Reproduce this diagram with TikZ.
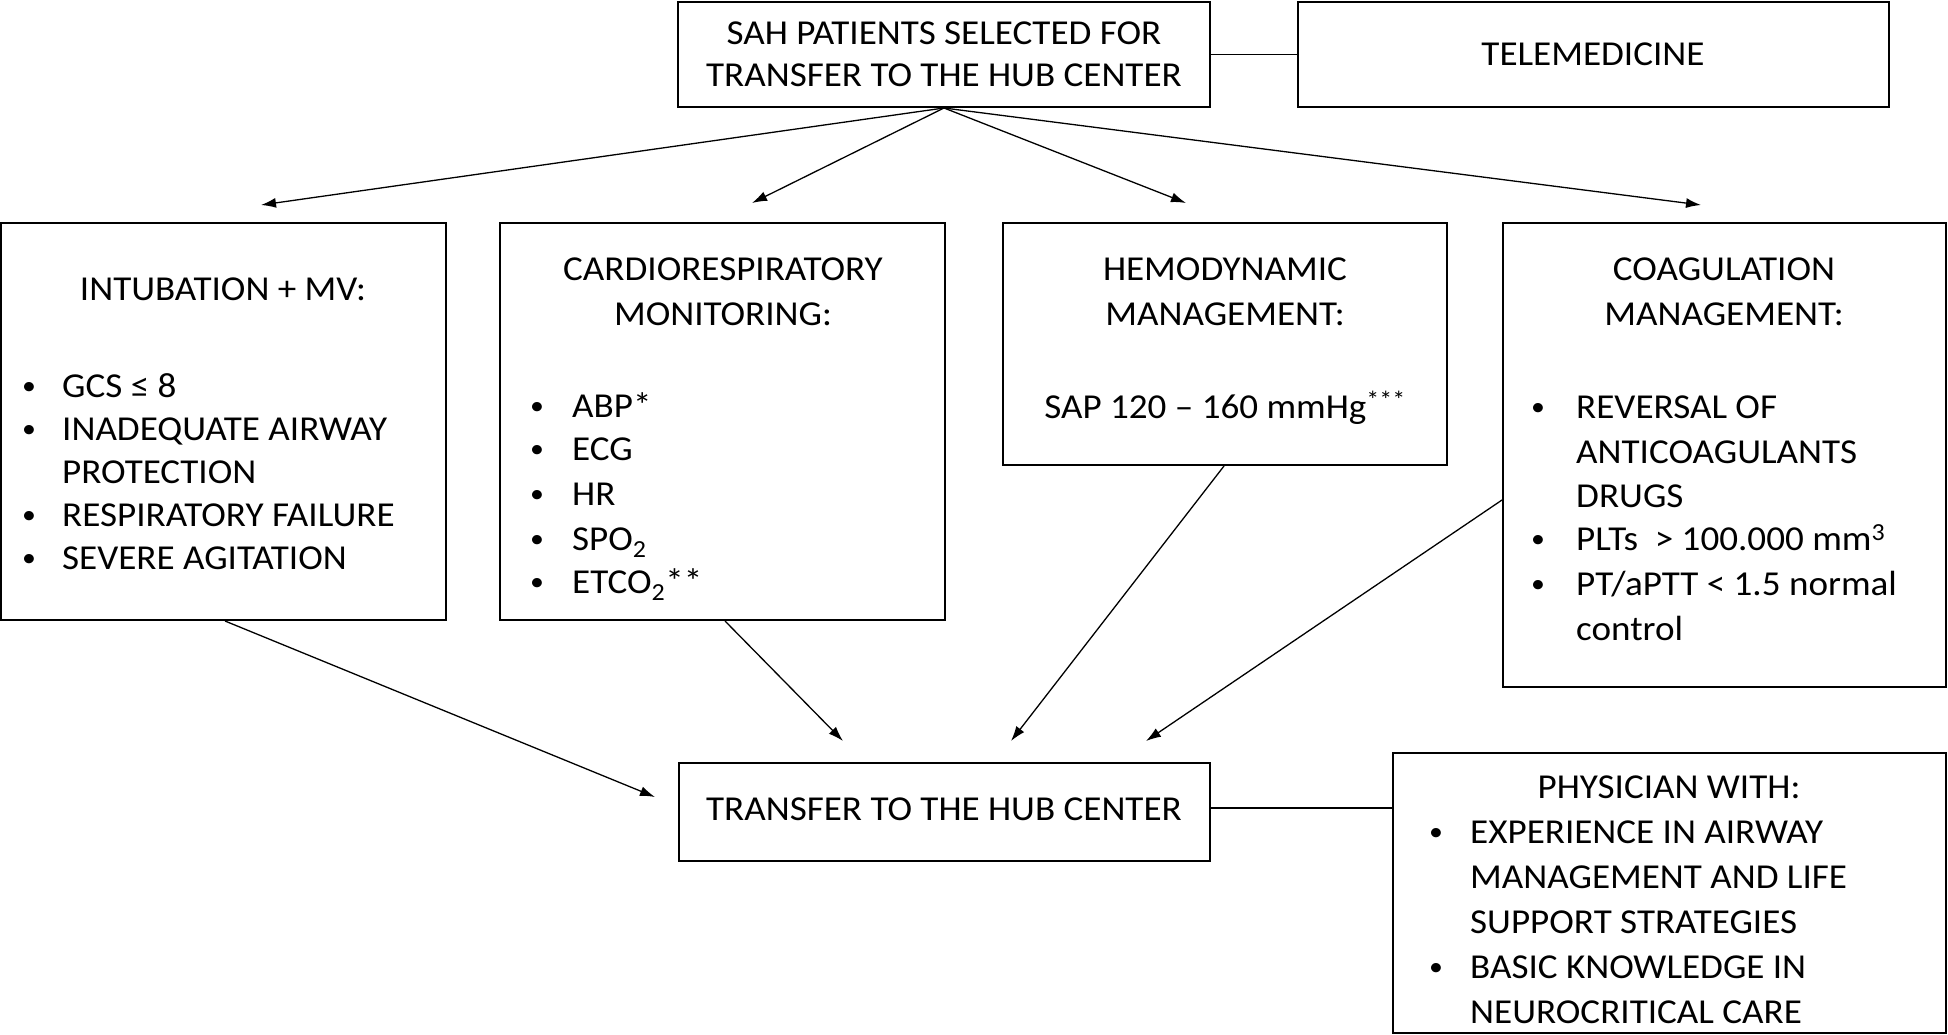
\documentclass[tikz,border=0pt]{standalone}
\usepackage{fontspec}
\setmainfont{Carlito}[FakeStretch=1.06]
\usetikzlibrary{arrows.meta}
\newcommand\bulsym{\raisebox{2.5pt}{\scalebox{0.75}{•}}}
\begin{document}
\begin{tikzpicture}[x=1pt,y=-1pt,
 box/.style={draw, line width=2pt, inner sep=0pt},
 txt/.style={inner sep=0pt, font=\fontsize{35}{43}\selectfont},
 ctr/.style={txt, anchor=base},
 lft/.style={txt, anchor=base west},
 arr/.style={line width=1.3pt, -{Latex[length=15pt,width=10pt]}},
 ln/.style={line width=1.5pt}]
\useasboundingbox (0,0) rectangle (1948,1035);
% boxes
\node[box, minimum width=532pt, minimum height=105pt] (top) at (944,54.5) {};
\node[box, minimum width=591pt, minimum height=105pt] (tele) at (1593.5,54.5) {};
\node[box, minimum width=445pt, minimum height=397pt] (b1) at (223.5,421.5) {};
\node[box, minimum width=445pt, minimum height=397pt] (b2) at (722.5,421.5) {};
\node[box, minimum width=444pt, minimum height=242pt] (b3) at (1225,344) {};
\node[box, minimum width=443pt, minimum height=464pt] (b4) at (1724.5,455) {};
\node[box, minimum width=531pt, minimum height=98pt] (tr) at (944.5,812) {};
\node[box, minimum width=553pt, minimum height=280pt] (ph) at (1669.5,893) {};
% texts
\node[ctr] (t1) at (944,45) {SAH PATIENTS SELECTED FOR};
\node[ctr] (t2) at (944,87) {TRANSFER TO THE HUB CENTER};
\node[ctr] (tl) at (1593,66) {TELEMEDICINE};
% box 1
\node[ctr] (h1) at (223,300) {INTUBATION + MV:};
\node[lft] (p1a) at (22,397) {\bulsym};
\node[lft] (x1a) at (62,397) {GCS ≤ 8};
\node[lft] (p1b) at (22,440) {\bulsym};
\node[lft] (x1b) at (62,440) {INADEQUATE AIRWAY};
\node[lft] (x1c) at (62,483) {PROTECTION};
\node[lft] (p1d) at (22,526) {\bulsym};
\node[lft] (x1d) at (62,526) {RESPIRATORY FAILURE};
\node[lft] (p1e) at (22,569) {\bulsym};
\node[lft] (x1e) at (62,569) {SEVERE AGITATION};
% box 2
\node[ctr] (h2a) at (723,280) {CARDIORESPIRATORY};
\node[ctr] (h2b) at (723,325) {MONITORING:};
\node[lft] (p2a) at (530,417) {\bulsym};
\node[lft] (x2a) at (572,417) {ABP*};
\node[lft] (p2b) at (530,460) {\bulsym};
\node[lft] (x2b) at (572,460) {ECG};
\node[lft] (p2c) at (530,505) {\bulsym};
\node[lft] (x2c) at (572,505) {HR};
\node[lft] (p2d) at (530,550) {\bulsym};
\node[lft] (x2d) at (572,550) {SPO\textsubscript{2}};
\node[lft] (p2e) at (530,593) {\bulsym};
\node[lft] (x2e) at (572,593) {ETCO\textsubscript{2}**};
% box 3
\node[ctr] (h3a) at (1225,280) {HEMODYNAMIC};
\node[ctr] (h3b) at (1225,325) {MANAGEMENT:};
\node[ctr] (x3a) at (1225,418) {SAP 120 – 160 mmHg\textsuperscript{***}};
% box 4
\node[ctr] (h4a) at (1724,280) {COAGULATION};
\node[ctr] (h4b) at (1724,325) {MANAGEMENT:};
\node[lft] (p4a) at (1531,418) {\bulsym};
\node[lft] (x4a) at (1576,418) {REVERSAL OF};
\node[lft] (x4b) at (1576,463) {ANTICOAGULANTS};
\node[lft] (x4c) at (1576,507) {DRUGS};
\node[lft] (p4d) at (1531,550) {\bulsym};
\node[lft] (x4d) at (1576,550) {PLTs\ \ > 100.000 mm\textsuperscript{3}};
\node[lft] (p4e) at (1531,595) {\bulsym};
\node[lft] (x4e) at (1576,595) {PT/aPTT < 1.5 normal};
\node[lft] (x4f) at (1576,640) {control};
% transfer
\node[ctr] (trt) at (944,820) {TRANSFER TO THE HUB CENTER};
% physician
\node[ctr] (h5) at (1669,798) {PHYSICIAN WITH:};
\node[lft] (p5a) at (1429,843) {\bulsym};
\node[lft] (x5a) at (1470,843) {EXPERIENCE IN AIRWAY};
\node[lft] (x5b) at (1470,888) {MANAGEMENT AND LIFE};
\node[lft] (x5c) at (1470,933) {SUPPORT STRATEGIES};
\node[lft] (p5d) at (1429,978) {\bulsym};
\node[lft] (x5d) at (1470,978) {BASIC KNOWLEDGE IN};
\node[lft] (x5e) at (1470,1023) {NEUROCRITICAL CARE};
% arrow end points
\coordinate (a1) at (261,205);
\coordinate (a2) at (752,203);
\coordinate (a3) at (1186,203);
\coordinate (a4) at (1701,205);
\coordinate (e1) at (655,797);
\coordinate (e2) at (843,741);
\coordinate (e3) at (1011,741);
\coordinate (e4) at (1146,741);
% connectors
\draw[ln] (top.east) -- (tele.west);
\draw[ln] ([yshift=4pt]tr.east) -- ([yshift=4pt]tr.east -| ph.west);
\draw[arr] (top.south) -- (a1);
\draw[arr] (top.south) -- (a2);
\draw[arr] (top.south) -- (a3);
\draw[arr] (top.south) -- (a4);
\draw[arr] ([xshift=1.5pt]b1.south) -- (e1);
\draw[arr] ([xshift=2.5pt]b2.south) -- (e2);
\draw[arr] ([xshift=-1pt]b3.south) -- (e3);
\draw[arr] ([yshift=-45pt]b4.west) -- (e4);
\end{tikzpicture}
\end{document}
